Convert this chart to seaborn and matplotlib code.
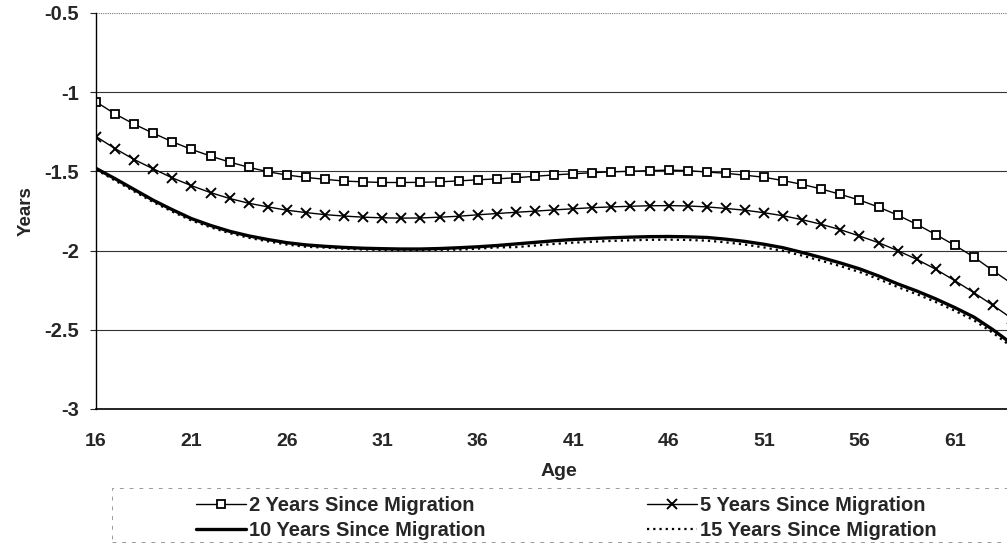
import seaborn as sns
import matplotlib.pyplot as plt
from matplotlib.patches import Rectangle
from matplotlib.ticker import FuncFormatter

# Age categories (one point per year)
ages = list(range(16, 65))

yrs_2 = [-1.061, -1.137, -1.202, -1.259, -1.313, -1.361, -1.403, -1.441, -1.474, -1.502,
         -1.523, -1.538, -1.550, -1.561, -1.566, -1.570, -1.570, -1.569, -1.566, -1.560,
         -1.553, -1.547, -1.540, -1.531, -1.522, -1.515, -1.508, -1.503, -1.499, -1.495,
         -1.492, -1.495, -1.504, -1.512, -1.524, -1.537, -1.558, -1.582, -1.611, -1.645,
         -1.681, -1.725, -1.776, -1.834, -1.899, -1.967, -2.041, -2.127, -2.210]

yrs_5 = [-1.280, -1.356, -1.425, -1.484, -1.541, -1.590, -1.634, -1.671, -1.701, -1.724,
         -1.745, -1.760, -1.773, -1.782, -1.789, -1.793, -1.795, -1.794, -1.789, -1.783,
         -1.774, -1.766, -1.758, -1.751, -1.743, -1.736, -1.729, -1.724, -1.720, -1.717,
         -1.716, -1.718, -1.724, -1.734, -1.745, -1.761, -1.780, -1.805, -1.834, -1.868,
         -1.908, -1.950, -2.000, -2.055, -2.118, -2.190, -2.266, -2.346, -2.430]

yrs_10 = [-1.481, -1.546, -1.614, -1.682, -1.742, -1.798, -1.841, -1.878, -1.907, -1.930,
          -1.950, -1.964, -1.973, -1.980, -1.985, -1.988, -1.990, -1.990, -1.987, -1.982,
          -1.976, -1.968, -1.958, -1.948, -1.938, -1.930, -1.924, -1.919, -1.915, -1.912,
          -1.911, -1.913, -1.917, -1.928, -1.942, -1.960, -1.982, -2.012, -2.044, -2.078,
          -2.115, -2.160, -2.210, -2.255, -2.305, -2.360, -2.420, -2.500, -2.590]

yrs_15 = [-1.488, -1.558, -1.626, -1.694, -1.754, -1.810, -1.853, -1.890, -1.919, -1.942,
          -1.962, -1.976, -1.981, -1.988, -1.993, -1.996, -1.998, -1.998, -1.995, -1.994,
          -1.988, -1.980, -1.978, -1.968, -1.958, -1.950, -1.944, -1.939, -1.935, -1.932,
          -1.931, -1.933, -1.937, -1.948, -1.962, -1.980, -2.002, -2.032, -2.064, -2.098,
          -2.135, -2.180, -2.230, -2.275, -2.325, -2.380, -2.440, -2.520, -2.610]

x_ticks = [16, 21, 26, 31, 36, 41, 46, 51, 56, 61]
y_ticks = [-3, -2.5, -2, -1.5, -1, -0.5]

sns.set_style("white")
plt.rcParams['font.family'] = ['Liberation Sans', 'DejaVu Sans']
plt.rcParams['font.weight'] = 'bold'
plt.rcParams['axes.unicode_minus'] = False

fig = plt.figure(figsize=(10.07, 5.46), dpi=100)
ax = fig.add_axes([96 / 1007, 1 - 409 / 546, 1 - 96 / 1007, (409 - 13) / 546])

sns.lineplot(x=ages, y=yrs_2, ax=ax, color='black', lw=1.0, marker='s', markersize=5.5,
             markerfacecolor='white', markeredgecolor='black', markeredgewidth=1.3,
             label='2 Years Since Migration')
sns.lineplot(x=ages, y=yrs_5, ax=ax, color='black', lw=1.0, marker='x', markersize=6.5,
             markeredgecolor='black', markeredgewidth=1.4, label='5 Years Since Migration')
sns.lineplot(x=ages, y=yrs_10, ax=ax, color='black', lw=2.4,
             label='10 Years Since Migration')
sns.lineplot(x=ages, y=yrs_15, ax=ax, color='black', lw=1.6, linestyle=(0, (1, 1.8)),
             label='15 Years Since Migration')

ax.set_xlim(16, 63.73)
ax.set_ylim(-3, -0.5)
ax.set_xticks(x_ticks)
ax.set_yticks(y_ticks)
ax.yaxis.set_major_formatter(FuncFormatter(lambda v, p: '%g' % v))
ax.tick_params(axis='x', length=0, pad=17, labelsize=14)
ax.tick_params(axis='y', length=4, width=0.8, direction='out', pad=8, labelsize=14.5, left=True)
for lab in ax.get_xticklabels() + ax.get_yticklabels():
    lab.set_fontweight('bold')

ax.grid(axis='y', color='#333333', lw=0.8)
ax.grid(axis='x', visible=False)
gl = ax.get_ygridlines()
gl[-1].set_linestyle((0, (1, 1)))
gl[-1].set_color('#777777')

ax.spines['left'].set_color('black')
ax.spines['left'].set_linewidth(1.0)
ax.spines['bottom'].set_color('black')
ax.spines['bottom'].set_linewidth(1.2)
ax.spines['top'].set_visible(False)
ax.spines['right'].set_visible(False)

ax.set_ylabel('Years', fontsize=13.5, fontweight='bold', labelpad=7)
ax.set_xlabel('Age', fontsize=14, fontweight='bold', labelpad=10)
ax.xaxis.label.set_x((559 - 96) / (1007 - 96))

# legend: first column 2 & 10 years, second column 5 & 15 years
handles, labels = ax.get_legend_handles_labels()
order = [0, 2, 1, 3]
leg = ax.legend([handles[i] for i in order], [labels[i] for i in order],
                ncol=2, frameon=False, loc='upper left',
                bbox_to_anchor=(182 / 1007, 1 - 482 / 546), bbox_transform=fig.transFigure,
                prop={'family': 'Liberation Sans', 'weight': 'bold', 'size': 14.5},
                handlelength=2.5, handletextpad=0.15, columnspacing=8.0,
                labelspacing=0.3, borderpad=0.2)

fig.patches.append(Rectangle((112 / 1007, 1 - 542 / 546), 1.0, (542 - 488) / 546,
                             transform=fig.transFigure, fill=False,
                             edgecolor='#999999', lw=0.7, linestyle=(0, (4, 6))))

fig.savefig('out.png', dpi=100)
